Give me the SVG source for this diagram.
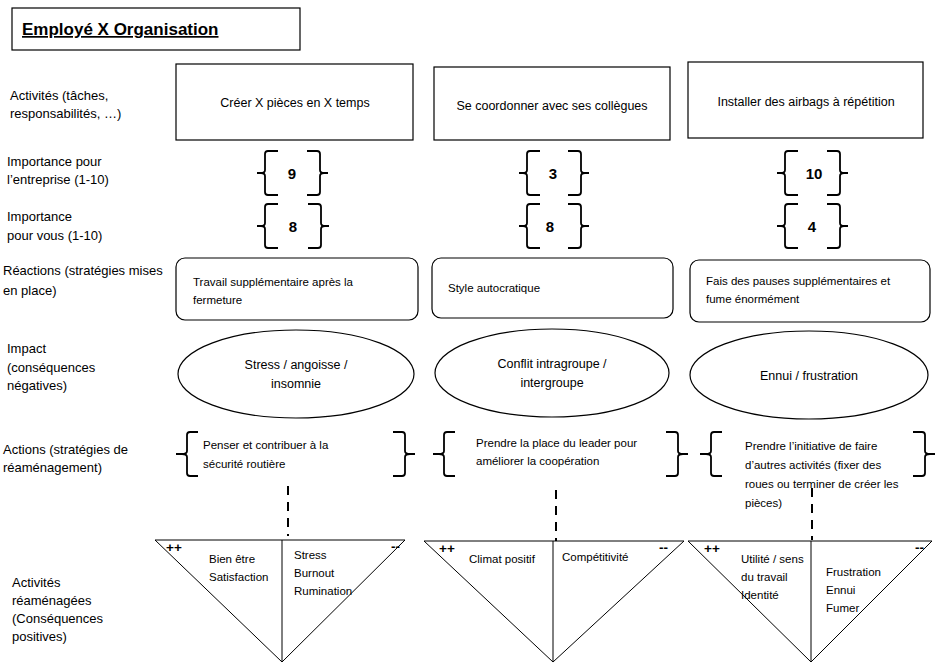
<svg xmlns="http://www.w3.org/2000/svg" width="935" height="669" viewBox="0 0 935 669">
<style>
text{font-family:"Liberation Sans",Arial,sans-serif;fill:#000}
.lbl{font-size:13px}
.t12{font-size:12.5px}
.t11{font-size:11.5px}
.num{font-size:15px;font-weight:bold}
.sign{font-size:13.5px;font-weight:bold}
.box{fill:#fff;stroke:#000;stroke-width:1.2}
.br{fill:none;stroke:#000;stroke-width:1.8}
.dash{stroke:#000;stroke-width:2;stroke-dasharray:9 7}
.tri{fill:#fff;stroke:#000;stroke-width:1}
</style>
<rect width="935" height="669" fill="#fff"/>
<g id="title">
<rect x="12" y="8" width="288" height="42" class="box" stroke-width="1.5"/>
<text x="22" y="35" font-size="17" font-weight="bold" text-decoration="underline">Employé X Organisation</text>
</g>
<g id="labels" class="lbl">
<text x="10" y="100">Activités (tâches,</text>
<text x="10" y="118">responsabilités, …)</text>
<text x="7" y="166">Importance pour</text>
<text x="7" y="184">l’entreprise (1-10)</text>
<text x="7" y="221">Importance</text>
<text x="7" y="240">pour vous (1-10)</text>
<text x="3" y="275">Réactions (stratégies mises</text>
<text x="3" y="295">en place)</text>
<text x="7" y="353">Impact</text>
<text x="7" y="372">(conséquences</text>
<text x="7" y="390">négatives)</text>
<text x="3" y="454">Actions (stratégies de</text>
<text x="3" y="472">réaménagement)</text>
<text x="12" y="587">Activités</text>
<text x="12" y="605">réaménagées</text>
<text x="12" y="623">(Conséquences</text>
<text x="12" y="641">positives)</text>
</g>
<g id="act1"><rect x="176" y="64" width="237" height="76" class="box"/><text x="295" y="107" class="t12" text-anchor="middle">Créer X pièces en X temps</text></g>
<g id="act2"><rect x="434" y="67" width="236" height="73" class="box"/><text x="552" y="110" class="t12" text-anchor="middle">Se coordonner avec ses collègues</text></g>
<g id="act3"><rect x="688" y="62" width="235" height="76" class="box"/><text x="806" y="106" class="t12" text-anchor="middle">Installer des airbags à répétition</text></g>
<defs>
<path id="bl" d="M21 0 H11 Q8 0 8 3 V19 Q8 22 4 22 H0 M4 22 Q8 22 8 25 V41 Q8 44 11 44 H21" class="br"/>
<path id="brr" d="M0 0 H10 Q13 0 13 3 V19 Q13 22 17 22 H21 M17 22 Q13 22 13 25 V41 Q13 44 10 44 H0" class="br"/>
</defs>
<g id="imp1">
<use href="#bl" x="257" y="151"/><text x="292" y="179" class="num" text-anchor="middle">9</text><use href="#brr" x="307" y="151"/>
<use href="#bl" x="519" y="151"/><text x="553" y="179" class="num" text-anchor="middle">3</text><use href="#brr" x="568" y="151"/>
<use href="#bl" x="777" y="151"/><text x="814" y="179" class="num" text-anchor="middle">10</text><use href="#brr" x="827" y="151"/>
</g>
<g id="imp2">
<use href="#bl" x="257" y="204"/><text x="293" y="232" class="num" text-anchor="middle">8</text><use href="#brr" x="308" y="204"/>
<use href="#bl" x="519" y="204"/><text x="550" y="232" class="num" text-anchor="middle">8</text><use href="#brr" x="568" y="204"/>
<use href="#bl" x="777" y="204"/><text x="812" y="232" class="num" text-anchor="middle">4</text><use href="#brr" x="827" y="204"/>
</g>
<g id="rea1"><rect x="176" y="258" width="242" height="62" rx="9" class="box"/><text class="t11" x="193" y="286">Travail supplémentaire après la</text><text class="t11" x="193" y="304">fermeture</text></g>
<g id="rea2"><rect x="432" y="258" width="241" height="60" rx="9" class="box"/><text class="t11" x="448" y="292">Style autocratique</text></g>
<g id="rea3"><rect x="690" y="260" width="240" height="62" rx="9" class="box"/><text class="t11" x="706" y="285">Fais des pauses supplémentaires et</text><text class="t11" x="706" y="303">fume énormément</text></g>
<g id="imp-a"><ellipse cx="296" cy="374" rx="118" ry="44" class="box"/><text class="t12" x="296" y="369" text-anchor="middle">Stress / angoisse /</text><text class="t12" x="296" y="388" text-anchor="middle">insomnie</text></g>
<g id="imp-b"><ellipse cx="552" cy="373" rx="117" ry="44" class="box"/><text class="t12" x="552" y="368" text-anchor="middle">Conflit intragroupe /</text><text class="t12" x="552" y="387" text-anchor="middle">intergroupe</text></g>
<g id="imp-c"><ellipse cx="809" cy="375" rx="119" ry="44" class="box"/><text class="t12" x="809" y="380" text-anchor="middle">Ennui / frustration</text></g>
<defs>
<path id="abl" d="M22 0 H14 Q11 0 11 3 V19 Q11 22 6 22 H0 M6 22 Q11 22 11 25 V41 Q11 44 14 44 H22" class="br"/>
<path id="abr" d="M0 0 H9 Q12 0 12 3 V19 Q12 22 17 22 H22 M17 22 Q12 22 12 25 V41 Q12 44 9 44 H0" class="br"/>
</defs>
<g id="actn1"><use href="#abl" x="176" y="432"/><text class="t11" x="203" y="449">Penser et contribuer à la</text><text class="t11" x="203" y="468">sécurité routière</text><use href="#abr" x="393" y="432"/></g>
<g id="actn2"><use href="#abl" x="433" y="432"/><text class="t11" x="476" y="447">Prendre la place du leader pour</text><text class="t11" x="476" y="465">améliorer la coopération</text><use href="#abr" x="666" y="432"/></g>
<g id="actn3"><use href="#abl" x="700" y="432"/><text class="t11" x="745" y="450">Prendre l’initiative de faire</text><text class="t11" x="745" y="469">d’autres activités (fixer des</text><text class="t11" x="745" y="488">roues ou terminer de créer les</text><text class="t11" x="745" y="507">pièces)</text><use href="#abr" x="913" y="432"/></g>
<g id="connectors">
<line x1="288" y1="486" x2="288" y2="536" class="dash"/>
<line x1="556" y1="490" x2="556" y2="545" class="dash"/>
<line x1="812" y1="488" x2="812" y2="540" class="dash"/>
</g>
<g id="res1"><path d="M155 540 H405 L282 662 Z M282 540 V662" class="tri"/><text class="sign" x="166" y="552">++</text><text class="sign" x="391" y="551">--</text>
<text class="t11" x="209" y="563">Bien être</text><text class="t11" x="209" y="581">Satisfaction</text>
<text class="t11" x="294" y="559">Stress</text><text class="t11" x="294" y="577">Burnout</text><text class="t11" x="294" y="595">Rumination</text></g>
<g id="res2"><path d="M424 541 H684 L553 662 Z M553 541 V662" class="tri"/><text class="sign" x="439" y="553">++</text><text class="sign" x="659" y="552">--</text>
<text class="t11" x="469" y="563">Climat positif</text><text class="t11" x="562" y="561">Compétitivité</text></g>
<g id="res3"><path d="M688 541 H932 L811 662 Z M811 541 V662" class="tri"/><text class="sign" x="704" y="553">++</text><text class="sign" x="915" y="552">--</text>
<text class="t11" x="741" y="563">Utilité / sens</text><text class="t11" x="741" y="581">du travail</text><text class="t11" x="741" y="599">Identité</text>
<text class="t11" x="826" y="576">Frustration</text><text class="t11" x="826" y="594">Ennui</text><text class="t11" x="826" y="612">Fumer</text></g>
</svg>
